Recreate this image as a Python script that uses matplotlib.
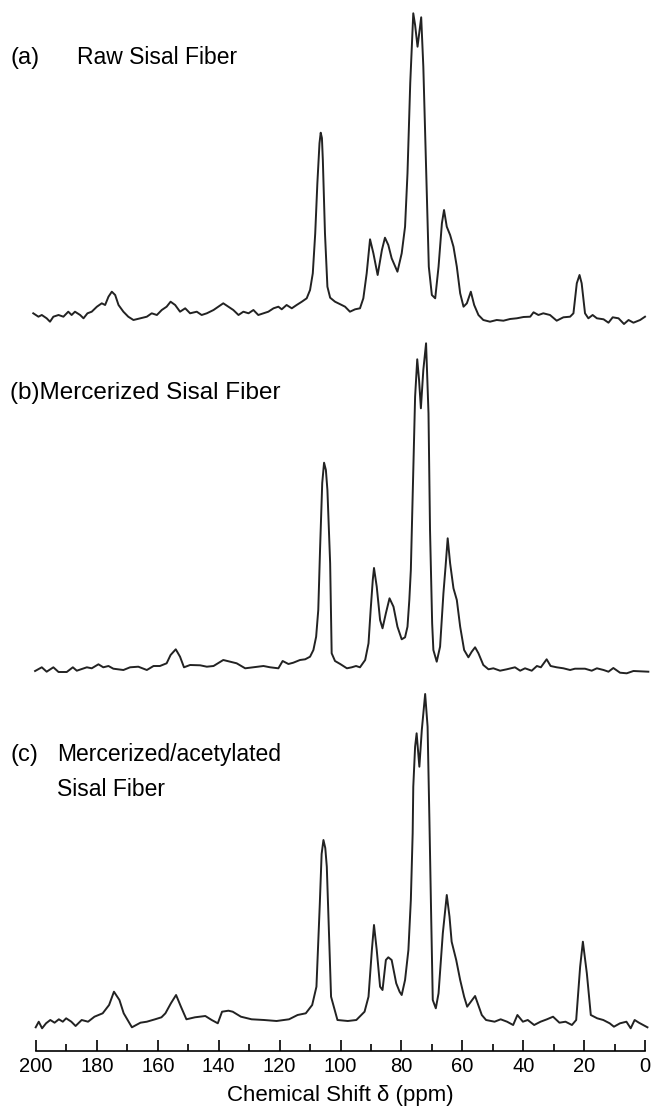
import numpy as np
import matplotlib.pyplot as plt
from matplotlib.ticker import MultipleLocator

plt.rcParams['font.family'] = ['Liberation Sans', 'DejaVu Sans']

# (a) raw sisal fiber: chemical shift (ppm) and intensity above baseline
ppm_a = [200.9, 199.2, 198.1, 196.5, 195.4, 194.3, 192.6, 191.0, 189.4, 188.3, 187.2, 185.5,
         184.4, 183.1, 181.7, 180.0, 178.4, 177.3, 176.2, 175.1, 174.0, 172.9, 171.3, 169.7,
         168.0, 165.8, 163.6, 162.0, 160.3, 158.7, 157.1, 155.8, 154.3, 152.7, 151.0, 149.4,
         147.2, 145.6, 143.9, 141.7, 140.1, 138.5, 136.8, 135.2, 133.5, 131.9, 130.2, 128.6,
         127.0, 125.3, 123.7, 122.0, 120.4, 119.3, 117.7, 116.0, 114.4, 112.7, 111.1, 110.0,
         109.1, 108.3, 107.6, 106.9, 106.5, 106.1, 105.8, 105.1, 104.3, 103.4, 101.8, 100.7, 99.6,
         98.5, 96.9, 95.2, 93.6, 92.5, 91.4, 90.3, 89.2, 87.8, 86.4, 85.4, 84.3, 83.2, 81.3,
         79.9, 78.8, 78.0, 77.1, 76.1, 75.5, 74.7, 74.0, 73.5, 72.8, 71.9, 71.0, 70.0, 68.9, 67.8, 66.7,
         66.0, 65.1, 64.0, 62.9, 61.8, 60.7, 59.6, 58.5, 57.2, 56.1, 54.7, 53.1, 50.9, 48.7,
         46.5, 44.3, 42.1, 39.9, 37.7, 36.6, 35.0, 33.4, 31.2, 29.0, 26.8, 24.6, 23.5, 22.4,
         21.5, 20.8, 19.7, 18.6, 17.2, 15.8, 13.6, 12.0, 10.6, 8.7, 6.9, 5.4, 3.8, 1.6, 0.0]
int_a = [6.7, 3.3, 5.0, 1.7, -1.7, 3.3, 5.0, 3.3, 8.3, 5.0, 8.3, 5.0,
         1.7, 6.7, 8.3, 13.3, 16.7, 15.0, 23.3, 28.3, 25.0, 15.0, 8.3, 3.3,
         0.0, 1.7, 3.3, 6.7, 5.0, 10.0, 13.3, 18.3, 15.0, 8.3, 11.7, 6.7,
         8.3, 5.0, 6.7, 10.0, 13.3, 16.7, 13.3, 10.0, 5.0, 8.3, 6.7, 10.0,
         5.0, 6.7, 8.3, 11.7, 13.3, 10.7, 15.0, 11.7, 15.0, 18.3, 21.7, 30.0,
         46.7, 86.7, 136.7, 176.7, 187.3, 182.0, 160.0, 86.7, 33.3, 22.3, 18.3, 16.7, 15.0,
         13.3, 8.3, 10.7, 11.7, 21.7, 46.7, 80.7, 66.7, 45.0, 70.0, 82.3, 75.0, 61.7, 48.3,
         66.7, 93.3, 146.7, 236.7, 306.7, 295.0, 273.3, 290.0, 302.7, 253.3, 153.3, 53.3, 25.0, 21.7, 53.3, 96.7,
         110.0, 93.3, 85.0, 73.3, 53.3, 26.7, 13.3, 16.7, 28.3, 15.0, 5.0, 0.0, -1.7, 0.0,
         -0.7, 1.0, 1.7, 3.0, 3.3, 7.7, 5.0, 6.7, 5.0, -0.7, 2.7, 3.3, 6.7, 36.7,
         45.0, 36.7, 6.7, 1.7, 5.0, 1.7, 0.7, -2.7, 2.7, 1.7, -4.0, 0.0, -2.7, 0.0, 3.3]

# (b) mercerized sisal fiber
ppm_b = [200.3, 198.1, 196.5, 194.3, 192.6, 189.9, 187.9, 186.6, 183.3, 181.7, 179.5, 177.9,
         176.2, 174.6, 171.3, 169.1, 166.4, 163.6, 161.4, 159.3, 157.1, 155.8, 154.1, 152.7,
         151.4, 149.4, 146.1, 143.9, 141.7, 138.5, 136.3, 134.1, 131.3, 128.6, 125.3, 123.1,
         120.4, 119.0, 117.1, 115.5, 113.3, 111.6, 110.0, 108.9, 108.0, 107.3, 106.7, 106.0, 105.4,
         104.8, 104.3, 103.4, 102.9, 101.8, 100.1, 97.9, 96.3, 94.9, 93.6, 91.9, 90.8, 90.1, 89.4,
         89.0, 88.1, 87.0, 86.2, 85.1, 83.9, 82.6, 81.3, 79.9, 78.8, 78.0, 77.4, 76.9, 76.3,
         75.5, 74.8, 74.2, 73.6, 72.8, 71.9, 71.1, 70.6, 69.9, 69.5, 68.4, 67.3, 66.2, 65.5,
         64.8, 64.0, 62.9, 61.8, 60.7, 59.4, 58.0, 56.9, 55.8, 54.7, 53.1, 51.4, 49.8, 47.6,
         45.4, 42.7, 41.0, 39.4, 37.2, 35.5, 34.2, 32.3, 31.0, 29.0, 26.8, 24.6, 23.0, 19.7,
         17.5, 15.8, 13.6, 12.0, 10.4, 8.2, 6.0, 3.8, 1.6, -1.1]
int_b = [-3.0, 0.7, -3.7, 0.7, -4.0, -4.0, 0.7, -2.7, 0.7, -0.3, 3.7, 0.7,
         2.0, -0.7, -2.0, 0.7, 1.3, -2.0, 2.0, 2.0, 4.7, 13.0, 18.7, 11.3,
         0.7, 3.0, 2.7, 1.3, 2.0, 8.0, 6.3, 4.7, -0.3, 0.7, 2.0, 0.7,
         -0.3, 7.0, 4.0, 5.3, 8.0, 8.7, 11.3, 18.0, 31.3, 58.0, 120.0, 185.0, 205.3,
         198.0, 178.0, 104.7, 14.7, 7.0, 4.0, -0.3, 0.7, 2.0, 0.7, 8.0, 24.7, 58.0, 88.0,
         100.0, 81.3, 48.0, 39.7, 54.7, 69.7, 61.3, 41.3, 28.7, 30.7, 41.3, 68.0, 98.0, 171.3,
         271.3, 308.7, 288.0, 259.7, 298.0, 324.7, 254.7, 138.0, 44.7, 18.0, 6.3, 21.3, 74.7, 101.3,
         129.7, 104.7, 79.7, 68.0, 41.3, 18.0, 10.7, 16.3, 20.7, 14.7, 3.0, -1.3, -0.3, -2.7,
         -1.3, 0.7, -2.7, -0.3, -2.7, 2.0, 0.7, 8.7, 2.0, 0.7, -0.3, -2.0, -0.7, -0.7,
         -2.7, -0.3, -2.0, -3.7, 0.0, -4.7, -5.3, -3.0, -3.3, -3.7]

# (c) mercerized/acetylated sisal fiber
ppm_c = [200.1, 199.1, 198.0, 196.7, 195.3, 193.9, 192.5, 191.2, 190.1, 188.4, 187.0, 185.0,
         182.9, 180.8, 178.1, 176.0, 174.4, 172.6, 171.2, 168.5, 165.7, 163.6, 160.9, 158.8,
         157.5, 155.7, 154.0, 152.4, 150.6, 147.8, 144.4, 142.3, 140.3, 138.9, 136.8, 135.4,
         132.7, 129.2, 125.1, 121.0, 116.9, 114.1, 111.4, 109.3, 107.9, 106.8, 106.2, 105.6, 105.0, 104.5,
         103.6, 103.1, 101.0, 97.6, 94.8, 92.1, 90.8, 89.7, 89.0, 88.1, 87.0, 86.2, 85.1,
         84.3, 83.2, 81.7, 80.6, 79.9, 78.8, 77.7, 76.9, 76.3, 76.1, 75.5, 75.0, 74.1, 73.3,
         72.2, 71.4, 70.8, 70.2, 69.7, 68.7, 67.8, 66.4, 65.1, 64.2, 63.5, 62.0, 60.7, 59.4,
         58.4, 55.8, 53.6, 52.2, 49.4, 47.4, 45.3, 43.3, 41.9, 40.1, 38.5, 36.4, 34.3, 32.2,
         30.2, 28.1, 26.1, 24.0, 22.6, 21.3, 20.4, 19.1, 17.8, 15.7, 13.7, 11.6, 10.2, 8.2,
         6.1, 4.7, 3.4, 2.0, -0.8]
int_c = [-3.3, 2.3, -4.3, 0.7, 4.0, 1.3, 4.7, 2.3, 5.7, 2.3, -2.0, 4.0,
         2.3, 7.3, 10.7, 19.0, 32.3, 24.0, 10.7, -3.3, 1.3, 2.3, 4.7, 6.7,
         10.7, 20.7, 29.0, 17.3, 4.7, 6.7, 8.0, 4.0, 0.7, 12.3, 13.3, 12.3,
         7.3, 4.7, 4.0, 3.0, 4.7, 9.0, 10.7, 19.0, 37.3, 120.0, 170.0, 184.0, 176.0, 157.3,
         74.0, 27.3, 4.0, 3.0, 4.0, 12.3, 27.3, 74.0, 99.0, 74.0, 37.3, 34.0, 64.0,
         66.7, 64.0, 40.7, 32.3, 29.0, 44.0, 74.0, 124.0, 190.7, 237.3, 277.3, 290.7, 257.3, 294.0,
         330.0, 297.3, 204.0, 104.0, 24.0, 15.7, 30.7, 90.7, 129.0, 107.3, 82.3, 64.0, 44.0, 27.3,
         17.3, 28.0, 9.0, 4.0, 2.3, 4.7, 2.3, -1.0, 9.0, 2.3, 4.0, -1.0, 2.3, 4.7,
         7.3, 1.3, 2.3, -1.0, 4.0, 57.3, 82.3, 50.7, 9.0, 5.7, 4.0, 0.7, -2.7, 0.7,
         2.3, -4.3, 4.0, 1.3, -3.3]

offsets = [704, 356, 0]

fig = plt.figure(figsize=(6.57, 11.15), dpi=100)
ax = fig.add_axes([36 / 657, 64 / 1115, 609 / 657, 1051 / 1115])

for x, y, off in zip([ppm_a, ppm_b, ppm_c], [int_a, int_b, int_c], offsets):
    ax.plot(x, np.array(y) + off, color='#222222', lw=1.4, clip_on=False,
            solid_joinstyle='round')

ax.set_xlim(200, 0)
ax.set_ylim(-27, 1024)
for s in ['top', 'left', 'right']:
    ax.spines[s].set_visible(False)
ax.spines['bottom'].set_linewidth(1.2)
ax.set_yticks([])
ax.xaxis.set_major_locator(MultipleLocator(20))
ax.xaxis.set_minor_locator(MultipleLocator(10))
ax.tick_params(axis='x', which='major', direction='in', length=8, width=1.2,
               labelsize=14.5, pad=4)
ax.tick_params(axis='x', which='minor', direction='in', length=5, width=1.2)
ax.set_xlabel('Chemical Shift δ (ppm)', fontsize=16, labelpad=7)

# panel captions
fig.text(10 / 657, 1 - 58 / 1115, '(a)', fontsize=17, va='center')
fig.text(77 / 657, 1 - 58 / 1115, 'Raw Sisal Fiber', fontsize=16.5, va='center')
fig.text(10 / 657, 1 - 393 / 1115, '(b)Mercerized Sisal Fiber', fontsize=17.5, va='center')
fig.text(10 / 657, 1 - 755 / 1115, '(c)', fontsize=17, va='center')
fig.text(57 / 657, 1 - 755 / 1115, 'Mercerized/acetylated', fontsize=16.5, va='center')
fig.text(57 / 657, 1 - 790 / 1115, 'Sisal Fiber', fontsize=16.5, va='center')

fig.savefig('out.png', dpi=100)
